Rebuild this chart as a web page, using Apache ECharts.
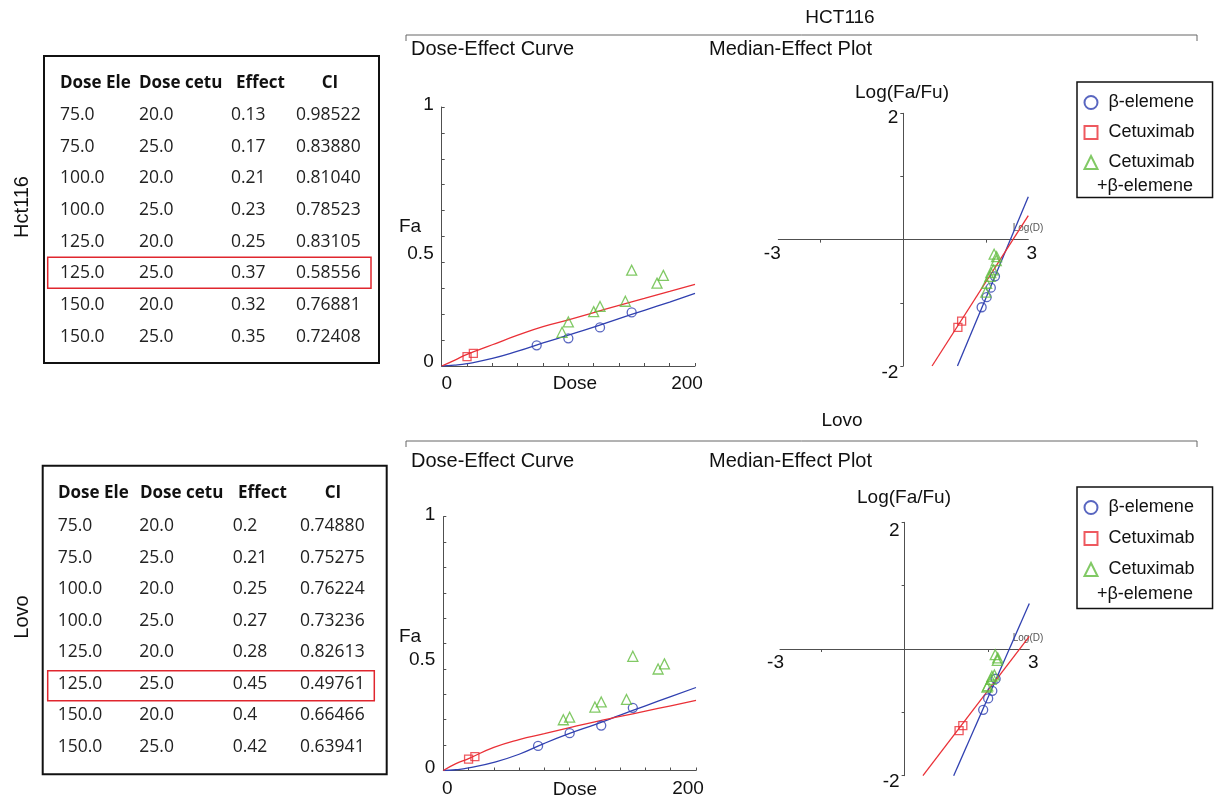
<!DOCTYPE html>
<html><head><meta charset="utf-8">
<script src="https://cdn.jsdelivr.net/npm/echarts@6.0.0/dist/echarts.min.js"></script>
<style>html,body{margin:0;padding:0;background:#fff}#c{width:1218px;height:798px}</style>
</head><body><div id="c"></div>
<script>
// ---------------- DATA ----------------
const tableHeaders = ['Dose Ele', 'Dose cetu', 'Effect', 'CI'];
const hctDoseEle  = ['75.0','75.0','100.0','100.0','125.0','125.0','150.0','150.0'];
const hctDoseCetu = ['20.0','25.0','20.0','25.0','20.0','25.0','20.0','25.0'];
const hctEffect   = ['0.13','0.17','0.21','0.23','0.25','0.37','0.32','0.35'];
const hctCI       = ['0.98522','0.83880','0.81040','0.78523','0.83105','0.58556','0.76881','0.72408'];
const lovoDoseEle  = ['75.0','75.0','100.0','100.0','125.0','125.0','150.0','150.0'];
const lovoDoseCetu = ['20.0','25.0','20.0','25.0','20.0','25.0','20.0','25.0'];
const lovoEffect   = ['0.2','0.21','0.25','0.27','0.28','0.45','0.4','0.42'];
const lovoCI       = ['0.74880','0.75275','0.76224','0.73236','0.82613','0.49761','0.66466','0.63941'];

const seriesNames = ['β-elemene', 'Cetuximab', 'Cetuximab+β-elemene'];

// Dose-effect points
const eleDose = [75, 100, 125, 150];
const cetuDose = [20, 25];
const comboDose = [95, 100, 120, 125, 145, 150, 170, 175];
const hctEleFa = [0.080, 0.107, 0.149, 0.207];
const hctCetuFa = [0.036, 0.049];
const hctComboFa = [0.13, 0.17, 0.21, 0.23, 0.25, 0.37, 0.32, 0.35];
const lovoEleFa = [0.097, 0.147, 0.177, 0.247];
const lovoCetuFa = [0.045, 0.055];
const lovoComboFa = [0.20, 0.21, 0.25, 0.27, 0.28, 0.45, 0.40, 0.42];

// Dose-effect fitted curves
const curveDose = [0, 10, 20, 40, 60, 80, 100, 120, 140, 160, 180, 200];
const hctEleCurveFa   = [0, 0.003, 0.009, 0.029, 0.057, 0.089, 0.119, 0.150, 0.183, 0.215, 0.247, 0.280];
const hctCetuCurveFa  = [0, 0.022, 0.045, 0.082, 0.119, 0.152, 0.178, 0.206, 0.234, 0.261, 0.288, 0.315];
const lovoEleCurveFa  = [0, 0.003, 0.010, 0.032, 0.064, 0.107, 0.146, 0.181, 0.218, 0.255, 0.291, 0.327];
const lovoCetuCurveFa = [0, 0.027, 0.047, 0.091, 0.122, 0.145, 0.169, 0.192, 0.213, 0.234, 0.255, 0.276];

// Median-effect points
const hctEleLogD = [1.88, 2.00, 2.10, 2.20];
const hctEleLogFaFu = [-1.07, -0.91, -0.76, -0.58];
const hctCetuLogD = [1.31, 1.40];
const hctCetuLogFaFu = [-1.39, -1.29];
const hctComboLogD = [1.98, 2.00, 2.08, 2.10, 2.16, 2.18, 2.23, 2.24];
const hctComboLogFaFu = [-0.83, -0.69, -0.58, -0.52, -0.48, -0.23, -0.33, -0.27];
const lovoEleLogD = [1.89, 2.01, 2.11, 2.19];
const lovoEleLogFaFu = [-0.96, -0.78, -0.66, -0.47];
const lovoCetuLogD = [1.31, 1.40];
const lovoCetuLogFaFu = [-1.29, -1.21];
const lovoComboLogD = [1.98, 2.00, 2.08, 2.10, 2.16, 2.18, 2.23, 2.24];
const lovoComboLogFaFu = [-0.60, -0.58, -0.48, -0.43, -0.41, -0.09, -0.18, -0.14];

// Median-effect fitted lines (end points)
const hctEleLineX = [1.30, 3.0],  hctEleLineY = [-2, 0.68];
const hctCetuLineX = [0.69, 3.0], hctCetuLineY = [-2, 0.38];
const lovoEleLineX = [1.18, 3.0], lovoEleLineY = [-2, 0.72];
const lovoCetuLineX = [0.44, 3.0], lovoCetuLineY = [-2, 0.20];

// Tick labels
const doseXLabels = [0, 200];
const faYLabels = [0, 0.5, 1];
const logDLabels = [-3, 3];
const logFaFuLabels = [-2, 2];

// ---------------- STYLE ----------------
const BLUE = '#3040b0', RED = '#ea3037', GREEN = '#62bb3f', AX = '#505050', TXT = '#111';
const SANS = '"Liberation Sans", Arial, sans-serif';
const TFONT = '"Open Sans", sans-serif';
const zip = (a, b) => a.map((v, i) => [v, b[i]]);

const lab = (extra) => Object.assign({fontSize: 19, fontFamily: SANS, color: TXT}, extra || {});

function doseX(gi, padL, padR) {
  return {
    type: 'value', gridIndex: gi, min: 0, max: 200, interval: 20,
    axisLine: {lineStyle: {color: AX, width: 1}},
    axisTick: {inside: true, length: 3, lineStyle: {color: AX}},
    splitLine: {show: false},
    axisLabel: {
      customValues: doseXLabels, margin: 8.5, fontSize: 19, fontFamily: SANS, color: TXT,
      formatter: v => v === doseXLabels[0] ? '{l|' + v + '}' : '{r|' + v + '}',
      rich: {l: lab({padding: [0, 0, 0, padL]}), r: lab({padding: [0, padR, 0, 0]})}
    }
  };
}
function faY(gi, p1, p05, p0) {
  return {
    type: 'value', gridIndex: gi, min: 0, max: 1, interval: 0.1,
    axisLine: {lineStyle: {color: AX, width: 1}},
    axisTick: {inside: true, length: 3, lineStyle: {color: AX}},
    splitLine: {show: false},
    axisLabel: {
      customValues: faYLabels, margin: 8, fontSize: 19, fontFamily: SANS, color: TXT,
      formatter: v => v === 1 ? '{a|1}' : (v === 0.5 ? '{b|0.5}' : '{c|0}'),
      rich: {a: lab({padding: [0, 0, p1, 0]}), b: lab({padding: [p05, 0, 0, 0]}), c: lab({padding: [0, 0, p0, 0]})}
    }
  };
}
// x axis crossing the middle of the grid (at Log(Fa/Fu) = 0)
function logX(gi, off, pl, pr) {
  return {
    type: 'value', gridIndex: gi, min: -3, max: 3, offset: off,
    axisLine: {onZero: false, lineStyle: {color: AX, width: 1}},
    axisTick: {customValues: [-2, 2], length: 3, lineStyle: {color: AX}},
    splitLine: {show: false},
    axisLabel: {
      customValues: logDLabels, margin: 4.5, fontSize: 19, fontFamily: SANS, color: TXT,
      formatter: v => v < 0 ? '{l|' + v + '}' : '{r|' + v + '}',
      rich: {l: lab({padding: [0, pl, 0, 0]}), r: lab({padding: [0, 0, 0, pr]})}
    }
  };
}
// y axis crossing the middle of the grid (at Log(D) = 0)
function logY(gi, off, pTop, pBot) {
  return {
    type: 'value', gridIndex: gi, min: -2, max: 2, offset: off,
    axisLine: {onZero: false, lineStyle: {color: AX, width: 1}},
    axisTick: {customValues: [-2, -1, 1, 2], length: 3, lineStyle: {color: AX}},
    splitLine: {show: false},
    axisLabel: {
      customValues: logFaFuLabels, margin: 5, fontSize: 19, fontFamily: SANS, color: TXT,
      formatter: v => v > 0 ? '{t|' + v + '}' : '{b|' + v + '}',
      rich: {t: lab({padding: [pTop, 0, 0, 0]}), b: lab({padding: [pBot, 0, 0, 0]})}
    }
  };
}

function scat(name, xi, data, symbol, size, color) {
  return {type: 'scatter', name, xAxisIndex: xi, yAxisIndex: xi, data, symbol, symbolSize: size,
    itemStyle: {color: 'rgba(255,255,255,0)', borderColor: color, borderWidth: 1.3}, z: 4, silent: true};
}
function curve(name, xi, data, color, smooth) {
  return {type: 'line', name, xAxisIndex: xi, yAxisIndex: xi, data, symbol: 'none',
    smooth: smooth ? 0.5 : false,
    lineStyle: {color, width: 1.3}, itemStyle: {color}, z: 3, silent: true};
}

const series = [
  // top row (HCT116)
  scat(seriesNames[0], 0, zip(eleDose, hctEleFa), 'circle', 9, BLUE),
  scat(seriesNames[1], 0, zip(cetuDose, hctCetuFa), 'rect', 8, RED),
  scat(seriesNames[2], 0, zip(comboDose, hctComboFa), 'triangle', 10, GREEN),
  curve('β-elemene fit', 0, zip(curveDose, hctEleCurveFa), BLUE, true),
  curve('Cetuximab fit', 0, zip(curveDose, hctCetuCurveFa), RED, true),
  scat(seriesNames[0], 1, zip(hctEleLogD, hctEleLogFaFu), 'circle', 9, BLUE),
  scat(seriesNames[1], 1, zip(hctCetuLogD, hctCetuLogFaFu), 'rect', 8, RED),
  scat(seriesNames[2], 1, zip(hctComboLogD, hctComboLogFaFu), 'triangle', 10, GREEN),
  curve('β-elemene median', 1, zip(hctEleLineX, hctEleLineY), BLUE, false),
  curve('Cetuximab median', 1, zip(hctCetuLineX, hctCetuLineY), RED, false),
  // bottom row (Lovo)
  scat(seriesNames[0], 2, zip(eleDose, lovoEleFa), 'circle', 9, BLUE),
  scat(seriesNames[1], 2, zip(cetuDose, lovoCetuFa), 'rect', 8, RED),
  scat(seriesNames[2], 2, zip(comboDose, lovoComboFa), 'triangle', 10, GREEN),
  curve('β-elemene fit', 2, zip(curveDose, lovoEleCurveFa), BLUE, true),
  curve('Cetuximab fit', 2, zip(curveDose, lovoCetuCurveFa), RED, true),
  scat(seriesNames[0], 3, zip(lovoEleLogD, lovoEleLogFaFu), 'circle', 9, BLUE),
  scat(seriesNames[1], 3, zip(lovoCetuLogD, lovoCetuLogFaFu), 'rect', 8, RED),
  scat(seriesNames[2], 3, zip(lovoComboLogD, lovoComboLogFaFu), 'triangle', 10, GREEN),
  curve('β-elemene median', 3, zip(lovoEleLineX, lovoEleLineY), BLUE, false),
  curve('Cetuximab median', 3, zip(lovoCetuLineX, lovoCetuLineY), RED, false)
];

function legend(top, gap, padB) {
  return {
    data: seriesNames, orient: 'vertical', left: 1077, top,
    padding: [11.5, 18, padB, 6.5], itemGap: gap, itemWidth: 13, itemHeight: 13,
    borderColor: '#111', borderWidth: 1.5, selectedMode: false,
    formatter: n => '{a|' + (n === seriesNames[2] ? 'Cetuximab' : n) + '}',
    textStyle: {rich: {a: {fontSize: 18, fontFamily: SANS, color: TXT, padding: [0, 0, 0, 6]}}}
  };
}

// ---------------- GRAPHIC (titles, tables) ----------------
const g = [];
function txt(x, y, text, font, opts) {
  g.push(Object.assign({type: 'text', x, y, silent: true,
    style: Object.assign({text, font, fill: TXT, align: 'center', verticalAlign: 'middle'}, (opts && opts.style) || {})},
    (opts && opts.el) || {}));
}
function bracket(y, title, titleX, titleY, subY) {
  g.push({type: 'polyline', silent: true, shape: {points: [[406, y + 6], [406, y], [1197, y], [1197, y + 6]]},
    style: {stroke: '#666', lineWidth: 1, fill: 'none'}});
  txt(titleX, titleY, title, '19px ' + SANS);
  txt(411, subY, 'Dose-Effect Curve', '20px ' + SANS, {style: {align: 'left'}});
  txt(709, subY, 'Median-Effect Plot', '20px ' + SANS, {style: {align: 'left'}});
}
bracket(35, 'HCT116', 840, 18, 49);
bracket(441, 'Lovo', 842, 421, 461);

// axis titles
txt(410, 227, 'Fa', '19px ' + SANS);
txt(575, 384, 'Dose', '19px ' + SANS);
txt(902, 93, 'Log(Fa/Fu)', '19px ' + SANS);
txt(1028, 228, 'Log(D)', '10px ' + SANS, {style: {fill: '#555'}});
txt(410, 637, 'Fa', '19px ' + SANS);
txt(575, 790, 'Dose', '19px ' + SANS);
txt(904, 498, 'Log(Fa/Fu)', '19px ' + SANS);
txt(1028, 638, 'Log(D)', '10px ' + SANS, {style: {fill: '#555'}});
// second line of third legend entry
txt(1097, 186, '+β-elemene', '18px ' + SANS, {style: {align: 'left'}});
txt(1097, 594, '+β-elemene', '18px ' + SANS, {style: {align: 'left'}});

function table(c, cols) {
  g.push({type: 'rect', silent: true, shape: {x: c.x, y: c.y, width: c.w, height: c.h},
    style: {fill: 'none', stroke: '#111', lineWidth: 2}});
  g.push({type: 'rect', silent: true, shape: c.hl, style: {fill: 'none', stroke: '#e0262e', lineWidth: 1.5}});
  tableHeaders.forEach((h, i) => {
    const last = i === tableHeaders.length - 1;
    txt(c.headX[i], c.headY, h, 'bold 17px ' + TFONT, {style: {align: last ? 'center' : 'left', fill: '#111'}});
  });
  cols.forEach((col, ci) => col.forEach((v, ri) => {
    txt(c.colX[ci], c.rowY0 + ri * c.step, v, '17.5px ' + TFONT, {style: {align: 'left', fill: '#222'}});
  }));
  txt(c.side.x, c.side.y, c.side.text, '20px ' + SANS, {el: {rotation: Math.PI / 2}});
}
table({x: 44, y: 56, w: 335, h: 307, headY: 83.5, rowY0: 115, step: 31.65,
  colX: [60, 139, 231, 296], headX: [60, 139, 236, 330],
  hl: {x: 47.7, y: 257.3, width: 323.3, height: 31}, side: {text: 'Hct116', x: 22, y: 207}},
  [hctDoseEle, hctDoseCetu, hctEffect, hctCI]);
table({x: 42.7, y: 465.7, w: 344, h: 308.6, headY: 493.3, rowY0: 526, step: 31.55,
  colX: [57.7, 139.3, 232.7, 300], headX: [58, 140, 238, 333],
  hl: {x: 47.7, y: 670.7, width: 326.6, height: 30}, side: {text: 'Lovo', x: 22, y: 617}},
  [lovoDoseEle, lovoDoseCetu, lovoEffect, lovoCI]);

const option = {
  animation: false,
  backgroundColor: '#fff',
  grid: [
    {left: 441.7, top: 107, width: 253.3, height: 259},
    {left: 778.3, top: 113.3, width: 250, height: 252.7},
    {left: 443.3, top: 516.7, width: 252.7, height: 254},
    {left: 780, top: 522.3, width: 249.3, height: 253.4}
  ],
  xAxis: [doseX(0, 10, 16), logX(1, -126.35, 12, 7), doseX(2, 8, 16), logX(3, -126.7, 9, 8)],
  yAxis: [faY(0, 4, 34, 8), logY(1, -125, 8, 14), faY(2, 3, 32, 5), logY(3, -124.65, 16, 12)],
  legend: [legend(82, 12, 26), legend(487, 13, 30)],
  graphic: g,
  series
};
const chart = echarts.init(document.getElementById('c'), null, {renderer: 'canvas'});
chart.setOption(option);
</script></body></html>
